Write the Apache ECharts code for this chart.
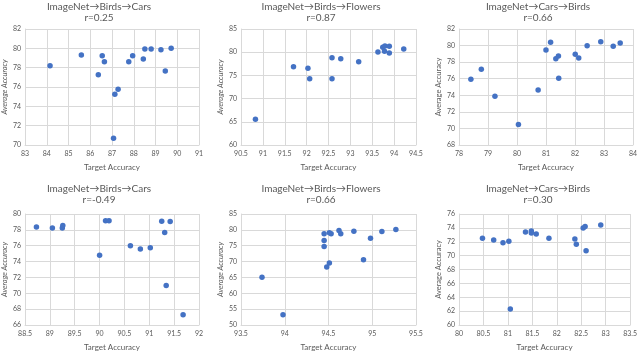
<!DOCTYPE html>
<html>
<head>
<meta charset="utf-8">
<script src="https://cdn.jsdelivr.net/npm/echarts@6/dist/echarts.min.js"></script>
<style>
  html, body { margin: 0; padding: 0; background: #fff; }
  #main { width: 640px; height: 352px; }
</style>
</head>
<body>
<div id="main"></div>
<script>
// panel titles
var titles = ['ImageNet→Birds→Cars', 'ImageNet→Birds→Flowers', 'ImageNet→Cars→Birds',
  'ImageNet→Birds→Cars', 'ImageNet→Birds→Flowers', 'ImageNet→Cars→Birds']
var rValues = ['r=0.25', 'r=0.87', 'r=0.66', 'r=-0.49', 'r=0.66', 'r=0.30']

// axis ranges [min, max, interval]
var xRanges = [[83, 91, 1], [90.5, 94.5, 0.5], [78, 84, 1], [88.5, 92, 0.5], [93.5, 95.5, 0.5], [80, 83.5, 0.5]]
var yRanges = [[70, 82, 2], [60, 85, 5], [68, 82, 2], [66, 80, 2], [50, 85, 5], [60, 76, 2]]

// panel 1
var p1x = [84.15, 85.59, 86.37, 86.55, 86.65, 87.07, 87.13, 87.28, 87.77, 87.95, 88.44, 88.51, 88.8, 89.25, 89.45, 89.72]
var p1y = [78.2, 79.3, 77.28, 79.24, 78.6, 70.69, 75.24, 75.76, 78.6, 79.24, 78.9, 79.93, 79.93, 79.86, 77.66, 80.0]
// panel 2
var p2x = [90.83, 91.70, 92.03, 92.07, 92.58, 92.58, 92.78, 93.19, 93.63, 93.74, 93.79, 93.78, 93.89, 93.89, 94.22]
var p2y = [65.53, 76.88, 76.52, 74.3, 78.82, 74.3, 78.6, 77.96, 80.04, 81.05, 81.34, 80.19, 81.26, 79.83, 80.69]
// panel 3
var p3x = [78.41, 78.77, 79.24, 80.05, 80.73, 81.0, 81.16, 81.34, 81.43, 81.44, 82.01, 82.13, 82.42, 82.89, 83.32, 83.56]
var p3y = [75.93, 77.13, 73.87, 70.46, 74.64, 79.47, 80.39, 78.42, 78.74, 76.05, 78.94, 78.5, 79.99, 80.47, 79.91, 80.31]
// panel 4
var p4x = [88.73, 89.05, 89.25, 89.26, 90.0, 90.12, 90.19, 90.62, 90.82, 91.02, 91.25, 91.31, 91.42, 91.34, 91.68]
var p4y = [78.36, 78.24, 78.24, 78.56, 74.79, 79.16, 79.16, 75.99, 75.59, 75.75, 79.08, 77.67, 79.04, 70.97, 67.28]
// panel 5
var p5x = [93.74, 93.98, 94.45, 94.45, 94.45, 94.48, 94.51, 94.51, 94.53, 94.62, 94.64, 94.79, 94.90, 94.98, 95.11, 95.27]
var p5y = [65.04, 53.2, 78.78, 76.67, 74.77, 68.25, 69.56, 79.08, 78.78, 79.78, 78.78, 79.58, 70.56, 77.38, 79.48, 80.09]
// panel 6
var p6x = [80.48, 80.71, 80.9, 81.02, 81.05, 81.36, 81.48, 81.48, 81.58, 81.84, 82.37, 82.4, 82.54, 82.58, 82.6, 82.9]
var p6y = [72.52, 72.27, 71.85, 72.08, 62.29, 73.4, 73.54, 73.26, 73.12, 72.52, 72.38, 71.64, 73.98, 74.21, 70.72, 74.4]

var xs = [p1x, p2x, p3x, p4x, p5x, p6x]
var ys = [p1y, p2y, p3y, p4y, p5y, p6y]

var chart = echarts.init(document.getElementById('main'), null, { renderer: 'canvas' })

var lefts = [22, 241, 459]
var widths = [177, 175, 176]
var tops = [29, 214]
var titleCenters = [99, 321, 538]
var titleTops = [2, 184]
var italicY = [true, true, false, true, true, false]

var grids = []
var xAxes = []
var yAxes = []
var series = []
var graphics = []
var labelColor = '#595959'
var gridColor = '#d9d9d9'
var font = 'Lato, "DejaVu Sans", sans-serif'

for (var i = 0; i < 6; i++) {
  var col = i % 3
  var row = Math.floor(i / 3)
  grids.push({ left: lefts[col], top: tops[row], width: widths[col], height: 116 })
  xAxes.push({
    gridIndex: i,
    type: 'value',
    min: xRanges[i][0],
    max: xRanges[i][1],
    interval: xRanges[i][2],
    name: 'Target Accuracy',
    nameLocation: 'middle',
    nameGap: 18,
    nameTextStyle: { color: labelColor, fontSize: 8, fontFamily: font },
    axisLine: { show: true, lineStyle: { color: gridColor } },
    axisTick: { show: false },
    axisLabel: { color: labelColor, fontSize: 7, fontFamily: font, margin: 5 },
    splitLine: { show: true, lineStyle: { color: gridColor, width: 1 } }
  })
  yAxes.push({
    gridIndex: i,
    type: 'value',
    min: yRanges[i][0],
    max: yRanges[i][1],
    interval: yRanges[i][2],
    name: 'Average Accuracy',
    nameLocation: 'middle',
    nameGap: 14,
    nameTextStyle: { color: labelColor, fontSize: 7.5, fontFamily: font, fontStyle: italicY[i] ? 'italic' : 'normal' },
    axisLine: { show: true, lineStyle: { color: gridColor } },
    axisTick: { show: false },
    axisLabel: { color: labelColor, fontSize: 7, fontFamily: font, margin: 4 },
    splitLine: { show: true, lineStyle: { color: gridColor, width: 1 } }
  })
  var pts = []
  for (var k = 0; k < xs[i].length; k++) {
    pts.push([xs[i][k], ys[i][k]])
  }
  series.push({
    type: 'scatter',
    xAxisIndex: i,
    yAxisIndex: i,
    data: pts,
    symbolSize: 5.5,
    itemStyle: { color: '#4472c4', opacity: 1 }
  })
  graphics.push({
    type: 'text',
    x: titleCenters[col],
    y: titleTops[row],
    style: {
      text: titles[i] + '\n' + rValues[i],
      align: 'center',
      verticalAlign: 'top',
      fill: labelColor,
      fontSize: 10,
      lineHeight: 10.5,
      fontFamily: font
    }
  })
}

chart.setOption({
  backgroundColor: '#fff',
  animation: false,
  grid: grids,
  xAxis: xAxes,
  yAxis: yAxes,
  series: series,
  graphic: graphics
})
</script>
</body>
</html>
